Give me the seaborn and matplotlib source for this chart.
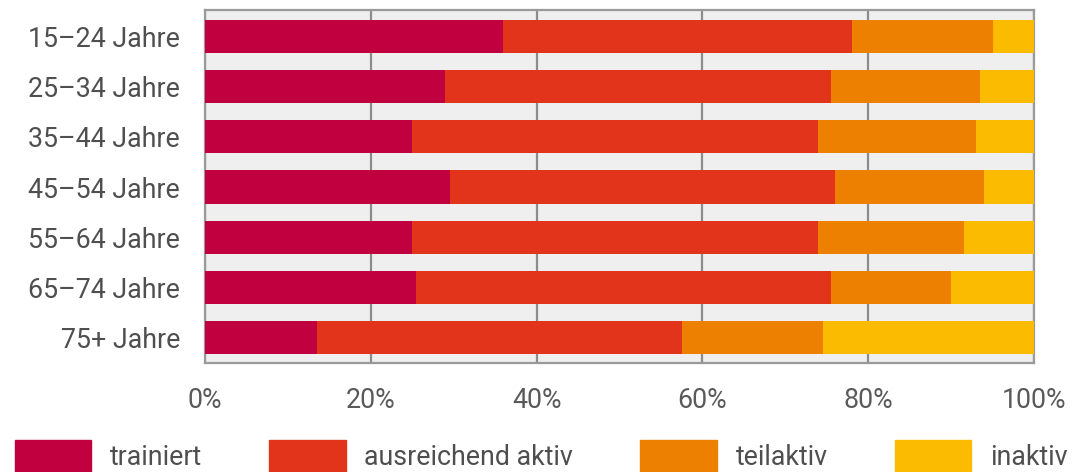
import matplotlib
matplotlib.use("Agg")
import matplotlib.pyplot as plt
import matplotlib.patches as mpatches
import seaborn as sns
import pandas as pd
import numpy as np

categories = ["15–24 Jahre", "25–34 Jahre", "35–44 Jahre", "45–54 Jahre",
              "55–64 Jahre", "65–74 Jahre", "75+ Jahre"]
trainiert = [36, 29, 25, 29.5, 25, 25.5, 13.5]
ausreichend = [42, 46.5, 49, 46.5, 49, 50, 44]
teilaktiv = [17, 18, 19, 18, 17.5, 14.5, 17]
inaktiv = [5, 6.5, 7, 6, 8.5, 10, 25.5]
series_names = ["trainiert", "ausreichend aktiv", "teilaktiv", "inaktiv"]
colors = ["#c1003f", "#e1341a", "#ee8000", "#fbbb00"]
xticks = [0, 20, 40, 60, 80, 100]
xticklabels = ["0%", "20%", "40%", "60%", "80%", "100%"]

sns.set_theme(style="white")
plt.rcParams["font.family"] = ["Roboto", "DejaVu Sans"]

df = pd.DataFrame({"cat": categories, "trainiert": trainiert,
                   "ausreichend aktiv": ausreichend, "teilaktiv": teilaktiv,
                   "inaktiv": inaktiv})
cum = df[series_names].cumsum(axis=1)

fig = plt.figure(figsize=(10.74, 4.72), dpi=100)
ax = fig.add_axes([205/1074, 1-363/472, (1034-205)/1074, (363-10)/472])
ax.set_facecolor("#efefef")

for name, col in reversed(list(zip(series_names, colors))):
    sns.barplot(x=cum[name], y=df["cat"], orient="h", color=col, width=0.66,
                ax=ax, zorder=3, linewidth=0, saturation=1)

FS = 19.3
ax.set_xlim(0, 100)
ax.set_ylim(6.5, -0.52)
ax.set_xticks(xticks)
ax.set_xticklabels(xticklabels)
ax.set_xlabel("")
ax.set_ylabel("")
ax.xaxis.grid(True, color="#8c8c8c", linewidth=1.6, zorder=1)
ax.set_axisbelow(True)
for s in ax.spines.values():
    s.set_color("#9a9a9a")
    s.set_linewidth(1.6)
ax.tick_params(axis="y", length=0, pad=18, labelsize=FS, labelcolor="#4f4f4f")
ax.tick_params(axis="x", length=6, width=1.6, color="#8c8c8c", pad=11.5,
               labelsize=FS, labelcolor="#5a5a5a")

handles = [mpatches.Patch(color=c, label=n) for n, c in zip(series_names, colors)]
leg = fig.legend(handles=handles, loc="upper left",
                 bbox_to_anchor=(15/1074, 1-440/472), ncol=4, frameon=False,
                 fontsize=FS, handlelength=2.85, handleheight=1.5,
                 handletextpad=0.7, columnspacing=2.5, borderpad=0,
                 borderaxespad=0)
for t in leg.get_texts():
    t.set_color("#4f4f4f")

fig.savefig("out.png", dpi=100)
